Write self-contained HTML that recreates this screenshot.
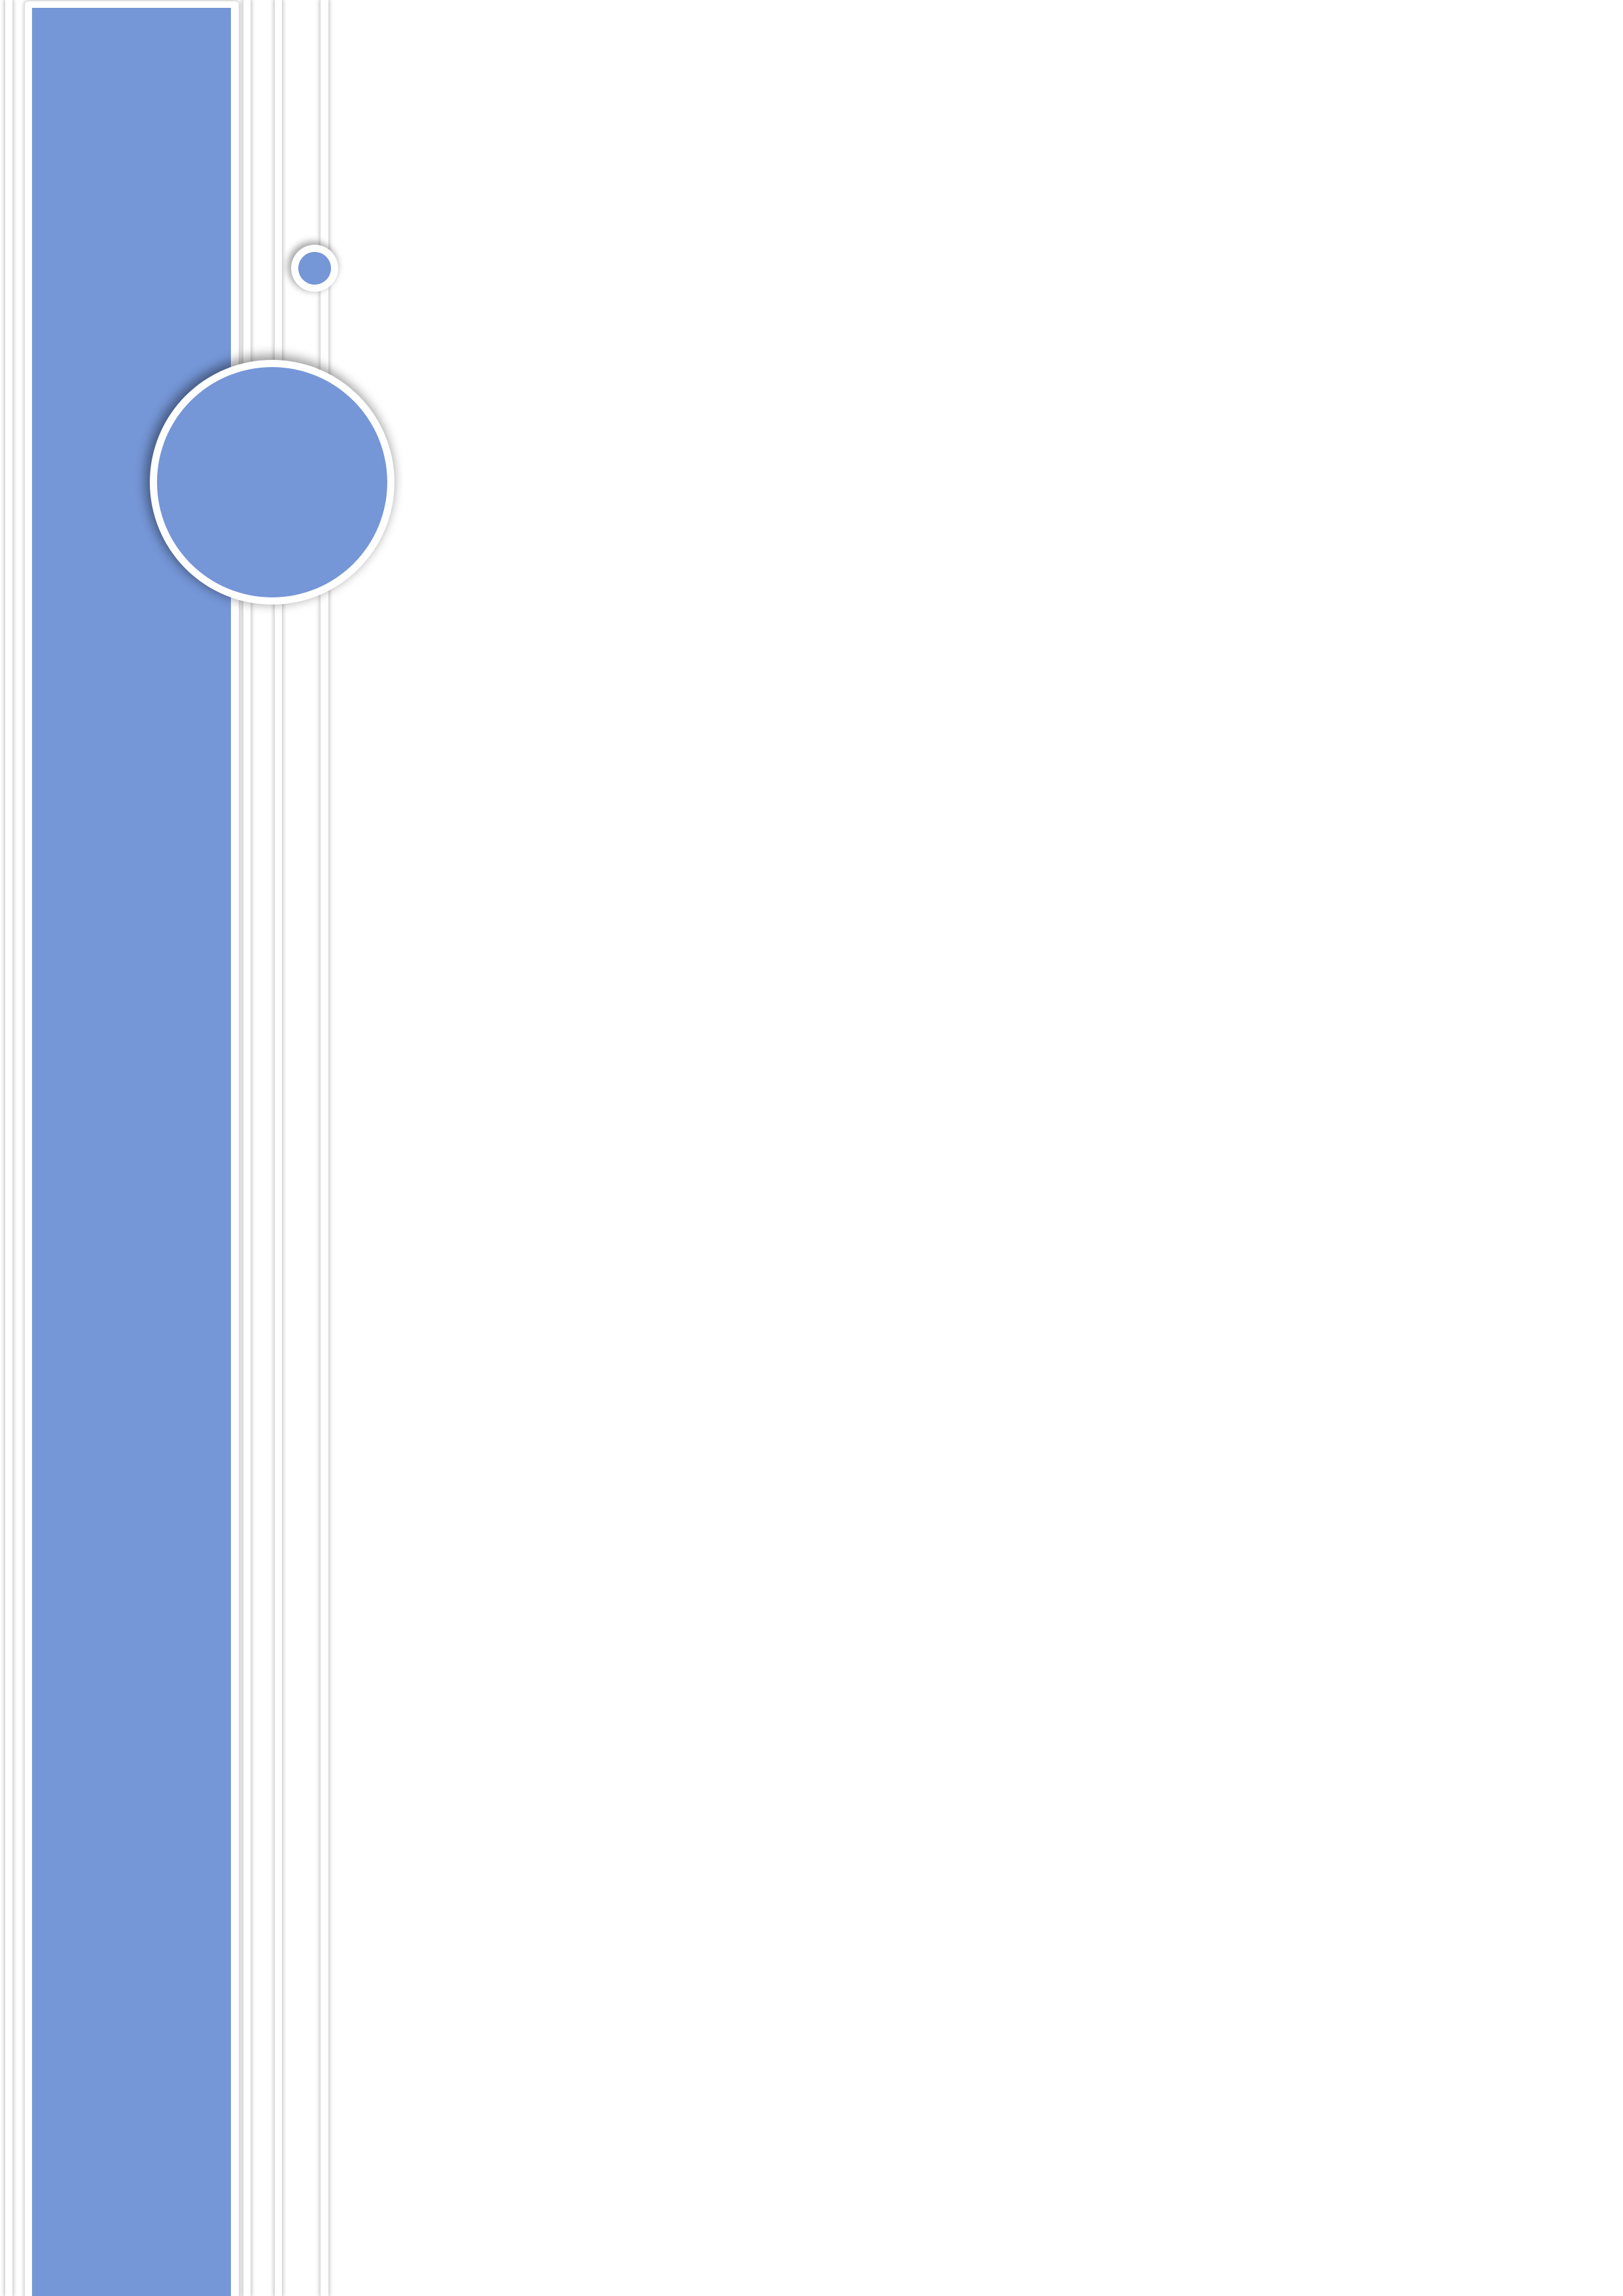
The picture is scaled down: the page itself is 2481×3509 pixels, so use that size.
<!DOCTYPE html>
<html><head><meta charset="utf-8"><style>
html,body{margin:0;padding:0;background:#fff;width:2481px;height:3509px;overflow:hidden;position:relative}
.s{position:absolute;top:0;height:3509px;background:#fff;box-shadow:0 0 6px 2px rgba(0,0,0,0.22)}
</style></head><body>
<div class="s" style="left:8px;width:11px"></div>
<div class="s" style="left:372px;width:11px"></div>
<div class="s" style="left:420px;width:11px"></div>
<div class="s" style="left:490px;width:12px"></div>
<div style="position:absolute;left:38px;top:2px;width:327px;height:3520px;background:#fff;border-radius:6px;box-shadow:0 0 6px 2px rgba(0,0,0,0.2)"></div>
<div style="position:absolute;left:49px;top:12px;width:304px;height:3497px;background:#7596d7"></div>
<div style="position:absolute;left:445px;top:374px;width:72px;height:72px;border-radius:50%;background:#fff;box-shadow:-3px -3px 10px 2px rgba(0,0,0,0.35)"><div style="position:absolute;left:11px;top:11px;width:50px;height:50px;border-radius:50%;background:#7596d7"></div></div>
<div style="position:absolute;left:229px;top:550px;width:374px;height:374px;border-radius:50%;background:#fff;box-shadow:-4px -4px 16px 3px rgba(0,0,0,0.4)"><div style="position:absolute;left:11px;top:11px;width:352px;height:352px;border-radius:50%;background:#7596d7"></div></div>
</body></html>
